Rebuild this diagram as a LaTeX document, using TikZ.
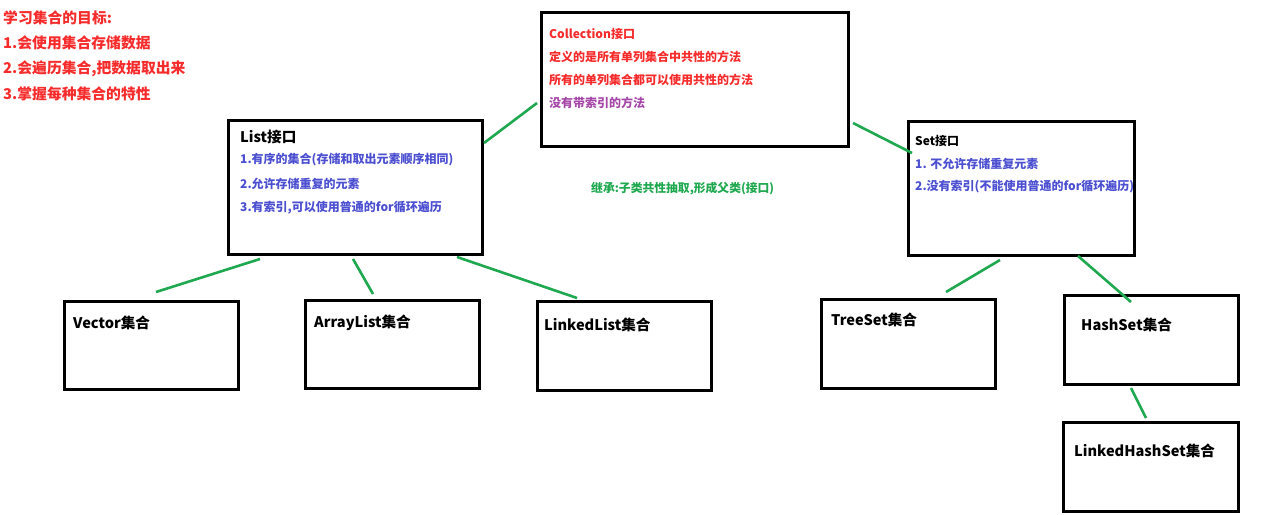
\documentclass[tikz,border=0pt]{standalone}
\usepackage{fontspec}
\setmainfont{Noto Sans CJK SC}
\definecolor{hred}{HTML}{F62B2B}
\definecolor{hblue}{HTML}{4B4FD0}
\definecolor{hpurple}{HTML}{A548A8}
\definecolor{hgreen}{HTML}{1FA84F}
\begin{document}
\begin{tikzpicture}[x=1pt,y=-1pt,
  box/.style={draw=black,line width=3pt,inner sep=0pt,anchor=north west},
  txt/.style={anchor=west,inner sep=0pt,font=\bfseries\fontsize{12}{14}\selectfont},
  redt/.style={txt,text=hred},
  bluet/.style={txt,text=hblue},
  goal/.style={anchor=west,inner sep=0pt,font=\bfseries\fontsize{14.8}{17}\selectfont,text=hred},
  head/.style={anchor=west,inner sep=0pt,font=\bfseries\fontsize{14.6}{16}\selectfont,text=black},
  link/.style={draw=hgreen,line width=2.6pt}]
\useasboundingbox (0,0) rectangle (1281,514);
% goals
\node[goal] (g0) at (3,18) {学习集合的目标:};
\node[goal] (g1) at (3,43) {1.会使用集合存储数据};
\node[goal] (g2) at (3,69) {2.会遍历集合,把数据取出来};
\node[goal] (g3) at (3,94) {3.掌握每种集合的特性};
% boxes
\node[box,minimum width=307pt,minimum height=134pt] (coll) at (540,11) {};
\node[box,minimum width=254pt,minimum height=134pt] (list) at (227,119) {};
\node[box,minimum width=226pt,minimum height=134pt] (set) at (907,120) {};
\node[box,minimum width=174pt,minimum height=88pt] (vec) at (63,300) {};
\node[box,minimum width=174pt,minimum height=88pt] (arr) at (304,299) {};
\node[box,minimum width=174pt,minimum height=89pt] (lnk) at (536,300) {};
\node[box,minimum width=174pt,minimum height=89pt] (tree) at (820,298) {};
\node[box,minimum width=174pt,minimum height=89pt] (hash) at (1063,294) {};
\node[box,minimum width=175pt,minimum height=89pt] (lhs) at (1062,421) {};
% collection text
\node[redt] (c0) at (549,34) {Collection接口};
\node[redt] (c1) at (549,57) {定义的是所有单列集合中共性的方法};
\node[redt] (c2) at (549,80) {所有的单列集合都可以使用共性的方法};
\node[txt,text=hpurple] (c3) at (549,103) {没有带索引的方法};
% list text
\node[head] (l0) at (240,137) {List接口};
\node[bluet] (l1) at (240,160) {1.有序的集合(存储和取出元素顺序相同)};
\node[bluet] (l2) at (240,184) {2.允许存储重复的元素};
\node[bluet] (l3) at (240,208) {3.有索引,可以使用普通的for循环遍历};
% set text
\node[txt,text=black] (s0) at (915,141) {Set接口};
\node[bluet] (s1) at (915,164) {1. 不允许存储重复元素};
\node[bluet] (s2) at (915,187) {2.没有索引(不能使用普通的for循环遍历)};
% inherit note
\node[anchor=west,inner sep=0pt,font=\bfseries\fontsize{11.8}{13}\selectfont,text=hgreen] (inh) at (591,189) {继承:子类共性抽取,形成父类(接口)};
% leaf labels
\node[head] (vt) at (73,323) {Vector集合};
\node[head] (at) at (314,323) {ArrayList集合};
\node[head] (lt) at (544,325) {LinkedList集合};
\node[head] (tt) at (831,320) {TreeSet集合};
\node[head] (ht) at (1081,325) {HashSet集合};
\node[head] (lht) at (1074,451) {LinkedHashSet集合};
% connector ends
\coordinate (a1) at (484,143); \coordinate (a2) at (537,103);
\coordinate (b1) at (853,123); \coordinate (b2) at (912,153);
\coordinate (v1) at (260,259); \coordinate (v2) at (156,292);
\coordinate (r1) at (353,259); \coordinate (r2) at (373,294);
\coordinate (k1) at (457,257); \coordinate (k2) at (577,298);
\coordinate (t1) at (1000,260); \coordinate (t2) at (946,292);
\coordinate (h1) at (1078,256); \coordinate (h2) at (1131,302);
\coordinate (q1) at (1131,388); \coordinate (q2) at (1146,418);
\draw[link] (a1) -- (a2);
\draw[link] (b1) -- (b2);
\draw[link] (v1) -- (v2);
\draw[link] (r1) -- (r2);
\draw[link] (k1) -- (k2);
\draw[link] (t1) -- (t2);
\draw[link] (h1) -- (h2);
\draw[link] (q1) -- (q2);
\end{tikzpicture}
\end{document}
